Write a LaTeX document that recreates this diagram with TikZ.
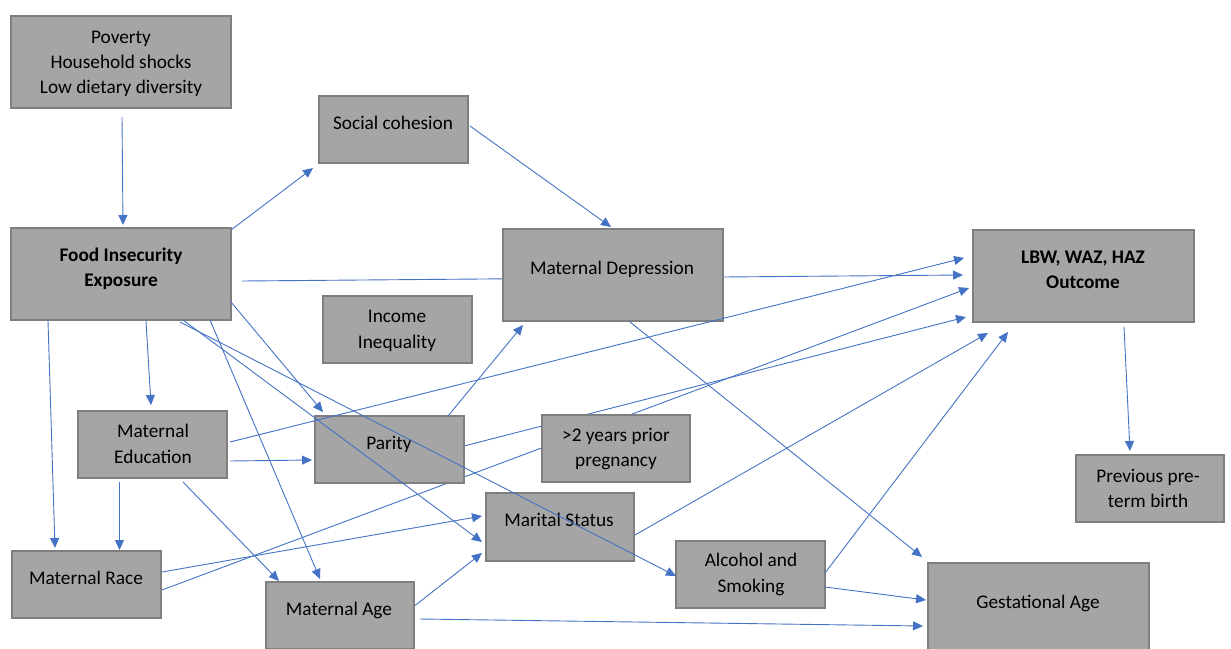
\documentclass[tikz,border=0pt]{standalone}
\usepackage{fontspec}
\setmainfont{Carlito}
\usetikzlibrary{arrows.meta}
\definecolor{boxfill}{HTML}{A5A5A5}
\definecolor{boxedge}{HTML}{7F7F7F}
\definecolor{arrowblue}{HTML}{4472C4}
\newcommand{\sr}{\rule[-5pt]{0pt}{19pt}}
\pgfdeclarelayer{bg}
\pgfsetlayers{bg,main}
\begin{document}
\begin{tikzpicture}[x=1pt,y=-1pt,
  box/.style={draw=boxedge,fill=boxfill,line width=1.6pt,inner sep=0pt,outer sep=0pt,rectangle},
  wide/.style={minimum width=220pt,minimum height=92pt},
  small/.style={minimum width=149pt,minimum height=67pt},
  lbl/.style={inner sep=0pt,align=center,yshift=-2pt,font=\fontsize{19.3}{25.2}\selectfont,text=black},
  conn/.style={draw=arrowblue,line width=0.9pt,-{Triangle[length=10pt,width=9pt]}}]
\useasboundingbox (0,0) rectangle (1231,648);
\clip (0,0) rectangle (1231,648);

% boxes
\node[box,wide] (pov) at (121,62) {};
\node[box,wide] (fie) at (121,274) {};
\node[box,small] (soc) at (393.5,129.5) {};
\node[box,wide] (matdep) at (613,275) {};
\node[box,small] (inc) at (397.5,329.5) {};
\node[box,wide,minimum width=221pt] (lbw) at (1083.5,276) {};
\node[box,small,minimum width=148pt] (prev) at (1150,488.5) {};
\node[box,small] (mated) at (152.5,444.5) {};
\node[box,small] (parity) at (389.5,449.5) {};
\node[box,small,minimum width=148pt] (twoyrs) at (616,448.5) {};
\node[box,small,minimum width=148pt,minimum height=68pt] (marital) at (560,527) {};
\node[box,small] (race) at (86.5,584.5) {};
\node[box,small,minimum width=148pt] (age) at (340,615.5) {};
\node[box,small] (alc) at (750.5,574.5) {};
\node[box,wide,minimum width=221pt] (gest) at (1038.5,609) {};

% texts
\node[lbl] (povt) at (121,61.8) {\sr Poverty\\\sr Household shocks\\\sr Low dietary diversity};
\node[lbl,font=\fontsize{19.3}{25.2}\selectfont\bfseries] (fiet) at (121,267.5) {\sr Food Insecurity\\\sr Exposure};
\node[lbl] (soct) at (393,123) {\sr Social cohesion};
\node[lbl] (matdept) at (612,268) {\sr Maternal Depression};
\node[lbl] (inct) at (397,329) {\sr Income\\\sr Inequality};
\node[lbl,font=\fontsize{19.3}{25.2}\selectfont\bfseries] (lbwt) at (1083,269.5) {\sr LBW, WAZ, HAZ\\\sr Outcome};
\node[lbl] (prevt) at (1148,488.5) {\sr Previous pre-\\\sr term birth};
\node[lbl] (matedt) at (153,444) {\sr Maternal\\\sr Education};
\node[lbl] (parityt) at (389,443) {\sr Parity};
\node[lbl] (twoyrst) at (616,447.5) {\sr >2 years prior\\\sr pregnancy};
\node[lbl] (maritalt) at (559,520) {\sr Marital Status};
\node[lbl] (racet) at (86,578) {\sr Maternal Race};
\node[lbl] (aget) at (339,609) {\sr Maternal Age};
\node[lbl] (alct) at (751,573) {\sr Alcohol and\\\sr Smoking};
\node[lbl] (gestt) at (1038,602) {\sr Gestational Age};

% connectors passing behind boxes
\begin{pgfonlayer}{bg}
\draw[conn] ([shift={(11,7)}]fie.east) -- ([shift={(-10,-1)}]lbw.west);
\draw[conn] ([shift={(1,5.5)}]race.east) -- ([shift={(-4,12)}]lbw.west);
\draw[conn] ([shift={(0,-3.5)}]parity.east) -- ([shift={(-7,41)}]lbw.west);
\end{pgfonlayer}

% connectors
\draw[conn] ([shift={(1,9)}]pov.south) -- ([shift={(2,-3)}]fie.north);
\draw[conn] ([shift={(0,2)}]fie.north east) -- ([shift={(-6,5)}]soc.south west);
\draw[conn] ([shift={(2,-3.5)}]soc.east) -- ([shift={(-2,-2)}]matdep.north);
\draw[conn] ([shift={(25,1)}]fie.south) -- ([shift={(-1.5,-6)}]mated.north);
\draw[conn] ([shift={(37,1)}]fie.south west) -- ([shift={(43,-3)}]race.north west);
\draw[conn] ([shift={(0,28)}]fie.east) -- ([shift={(8,-4)}]parity.north west);
\draw[conn] ([shift={(-21,0)}]fie.south east) -- ([shift={(-20,-3)}]age.north);
\draw[conn] ([shift={(62,0)}]fie.south) -- ([shift={(-4,15)}]marital.west);
\draw[conn] ([shift={(59,2)}]fie.south) -- ([shift={(0,1.5)}]alc.west);
\draw[conn] ([shift={(3,-2.5)}]mated.east) -- ([shift={(-9,-18)}]lbw.west);
\draw[conn] ([shift={(3,16.5)}]mated.east) -- ([shift={(-3,10.5)}]parity.west);
\draw[conn] ([shift={(-33,4)}]mated.south) -- ([shift={(33,-1)}]race.north);
\draw[conn] ([shift={(30.5,4)}]mated.south) -- ([shift={(13,-1)}]age.north west);
\draw[conn] ([shift={(1,-12.5)}]race.east) -- ([shift={(-4,-11)}]marital.west);
\draw[conn] ([shift={(58.5,0)}]parity.north) -- ([shift={(20,4)}]matdep.south west);
\draw[conn] ([shift={(1,8)}]marital.east) -- ([shift={(15,11)}]lbw.south west);
\draw[conn] ([shift={(1,-10)}]age.east) -- ([shift={(-4,-8)}]marital.south west);
\draw[conn] ([shift={(6,3.5)}]age.east) -- ([shift={(-5,17)}]gest.west);
\draw[conn] ([shift={(0,12.5)}]alc.east) -- ([shift={(-2,-9)}]gest.west);
\draw[conn] ([shift={(0,-1.5)}]alc.east) -- ([shift={(-75.5,10)}]lbw.south);
\draw[conn] ([shift={(17,1)}]matdep.south) -- ([shift={(-6,-6)}]gest.north west);
\draw[conn] ([shift={(40.5,5)}]lbw.south) -- ([shift={(-20,-4)}]prev.north);
\end{tikzpicture}
\end{document}
